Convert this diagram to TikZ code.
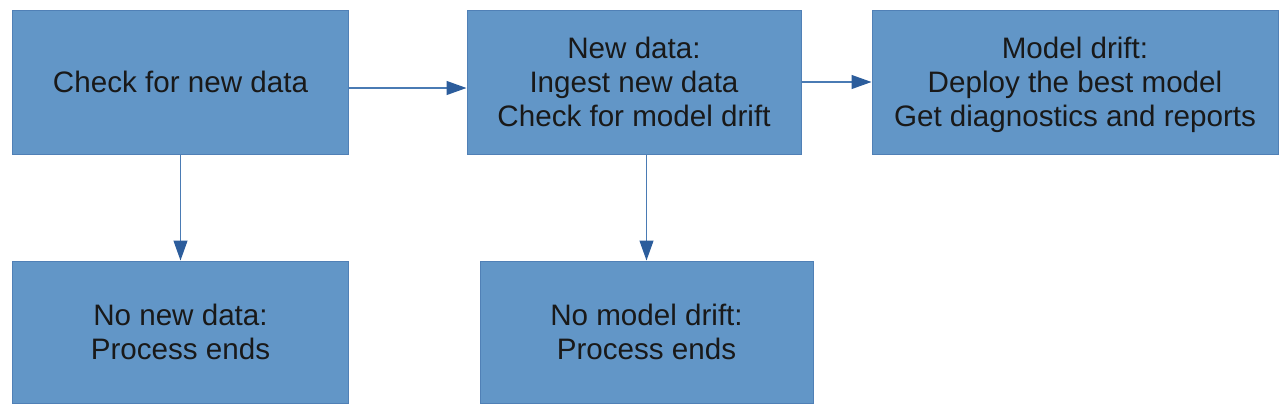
\documentclass[tikz,border=0pt]{standalone}
\usepackage{fontspec}
\setmainfont{Liberation Sans}
\usetikzlibrary{arrows.meta}
\definecolor{boxfill}{RGB}{98,150,199}
\definecolor{boxline}{RGB}{80,128,182}
\definecolor{linkcol}{RGB}{74,123,180}
\definecolor{tipcol}{RGB}{44,93,156}
\tikzset{
  box/.style={draw=boxline, line width=1bp, fill=boxfill, inner sep=0pt, align=center,
    font=\fontsize{29.6bp}{34bp}\selectfont, text=black!90},
  link/.style={draw=linkcol, line width=1.2bp, -{Triangle[length=20bp,width=14bp,color=tipcol]}}
}
\begin{document}
\begin{tikzpicture}[x=1bp,y=-1bp]
\useasboundingbox (0,0) rectangle (1284,412);
\node[box, minimum width=335bp, minimum height=144bp] (A) at (180.5,82) {Check for new data};
\node[box, minimum width=334bp, minimum height=144bp] (B) at (634,82) {New data:\\Ingest new data\\Check for model drift};
\node[box, minimum width=406bp, minimum height=144bp] (C) at (1075,82) {Model drift:\\Deploy the best model\\\raisebox{0pt}[\height][0pt]{Get diagnostics and reports}};
\node[box, minimum width=335bp, minimum height=142bp] (D) at (180.5,332) {No new data:\\Process ends};
\node[box, minimum width=333bp, minimum height=142bp] (E) at (646.5,332) {No model drift:\\Process ends};
\draw[link] ([yshift=-6bp]A.east) -- ([yshift=-6bp]B.west);
\draw[link] (B.east) -- (C.west);
\draw[link] (A.south) -- (D.north);
\draw[link] (E.north |- B.south) -- (E.north);
\end{tikzpicture}
\end{document}
